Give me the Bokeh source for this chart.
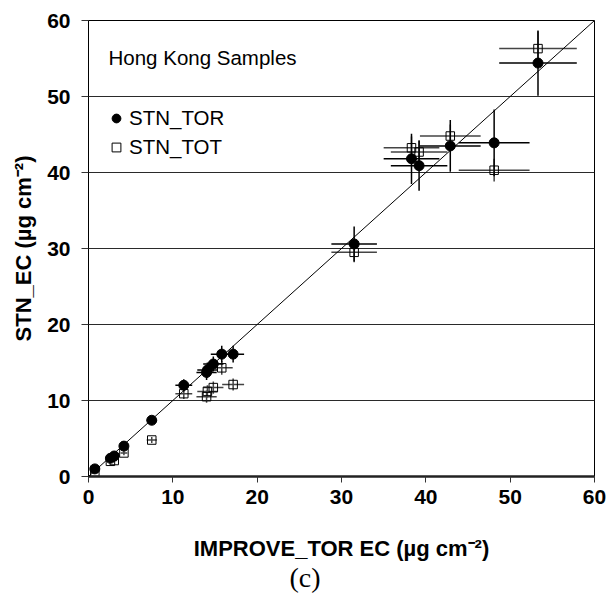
from bokeh.plotting import figure
from bokeh.models import (ColumnDataSource, Legend, LegendItem, Label, Slope,
                          SingleIntervalTicker, Range1d, Title)
from bokeh.embed import file_html
from bokeh.resources import INLINE

# ---- data ----
improve_tor = [53.3, 48.1, 42.9, 39.2, 38.3, 31.5, 17.15, 15.8, 14.8, 14.1, 14.0, 11.3, 7.5, 4.2, 3.05, 2.6, 0.75]
improve_err = [4.6, 4.2, 3.6, 3.35, 3.3, 2.7, 1.3, 1.3, 1.2, 1.2, 1.2, 1.0, 0.6, 0.4, 0.3, 0.3, 0.2]
stn_tor = [54.4, 43.9, 43.5, 40.9, 41.8, 30.6, 16.1, 16.1, 14.8, 14.0, 13.7, 12.0, 7.4, 4.0, 2.7, 2.4, 1.0]
stn_tor_err = [4.3, 4.4, 3.4, 3.3, 3.3, 2.3, 1.1, 1.1, 1.0, 1.0, 1.0, 0.8, 0.5, 0.4, 0.3, 0.3, 0.2]
stn_tot = [56.3, 40.3, 44.8, 42.7, 43.25, 29.5, 12.1, 14.3, 11.7, 11.2, 10.5, 10.9, 4.8, 3.1, 2.1, 2.0, 0.6]
stn_tot_err = [2.3, 1.5, 1.5, 1.5, 1.5, 1.3, 0.8, 0.9, 0.8, 0.8, 0.8, 0.7, 0.4, 0.3, 0.2, 0.2, 0.1]
axis_min, axis_max, tick_step = 0, 60, 10

FONT = "Liberation Sans"

def make_source(y, yerr):
    return ColumnDataSource(dict(
        x=improve_tor, y=y,
        x0=[a - e for a, e in zip(improve_tor, improve_err)],
        x1=[a + e for a, e in zip(improve_tor, improve_err)],
        y0=[a - e for a, e in zip(y, yerr)],
        y1=[a + e for a, e in zip(y, yerr)],
    ))

src_tor = make_source(stn_tor, stn_tor_err)
src_tot = make_source(stn_tot, stn_tot_err)

p = figure(width=608, height=600, output_backend="svg", toolbar_location=None,
           x_range=Range1d(axis_min, axis_max), y_range=Range1d(axis_min, axis_max),
           min_border_left=88, min_border_right=14, min_border_top=20, min_border_bottom=124)
p.background_fill_color = "white"
p.border_fill_color = "white"
p.outline_line_color = "black"
p.outline_line_width = 1

# grid
p.xgrid.grid_line_color = None
p.ygrid.grid_line_color = "#2a2a2a"
p.ygrid.grid_line_width = 1

for ax in (p.xaxis[0], p.yaxis[0]):
    ax.ticker = SingleIntervalTicker(interval=tick_step, num_minor_ticks=0)
    ax.major_tick_in = 0
    ax.minor_tick_line_color = None
    ax.major_label_text_font = FONT
    ax.major_label_text_font_style = "bold"
    ax.major_label_text_font_size = "21px"
    ax.major_label_text_color = "black"
    ax.axis_label_text_font = FONT
    ax.axis_label_text_font_style = "bold"
    ax.axis_label_text_font_size = "22px"
    ax.axis_label_text_color = "black"
    ax.major_tick_line_color = "#333333"

p.xaxis.axis_label = "IMPROVE_TOR EC (µg cm⁻²)"
p.yaxis.axis_label = "STN_EC (µg cm⁻²)"
p.xaxis.axis_line_width = 2.5
p.xaxis.axis_line_color = "#222222"
p.yaxis.axis_line_color = "black"
p.yaxis.axis_line_width = 1
p.xaxis.major_tick_out = 6
p.yaxis.major_tick_out = 7
p.xaxis.major_label_standoff = 7
p.yaxis.major_label_standoff = 11
p.xaxis.axis_label_standoff = 29
p.yaxis.axis_label_standoff = 8

# 1:1 line
p.add_layout(Slope(gradient=1, y_intercept=0, line_color="black", line_width=1))

# error bars
for src, col in ((src_tot, "#444444"), (src_tor, "black")):
    p.segment(x0="x0", y0="y", x1="x1", y1="y", source=src, line_color=col, line_width=1.5)
    p.segment(x0="x", y0="y0", x1="x", y1="y1", source=src, line_color=col, line_width=1.5)

r_tor = p.scatter("x", "y", source=src_tor, marker="circle", size=10,
                  fill_color="black", line_color="black")
r_tot = p.scatter("x", "y", source=src_tot, marker="square", size=8.5,
                  fill_color=None, line_color="black", line_width=1)

legend = Legend(items=[LegendItem(label="STN_TOR", renderers=[r_tor]),
                       LegendItem(label="STN_TOT", renderers=[r_tot])],
                location=(17, 317), glyph_width=22, glyph_height=22,
                label_height=22, spacing=5, padding=0, margin=0,
                label_standoff=2, border_line_color=None,
                background_fill_alpha=0,
                label_text_font=FONT, label_text_font_size="20.5px",
                label_text_color="black")
p.add_layout(legend, "center")

p.add_layout(Label(x=20, y=419, x_units="screen", y_units="screen",
                   text="Hong Kong Samples", text_font=FONT, text_font_size="20.5px",
                   text_baseline="middle", text_color="black"))

cap = Title(text="(c)", align="left", offset=201, standoff=-7,
            text_font="Liberation Serif", text_font_size="28px",
            text_font_style="normal", text_color="black")
p.add_layout(cap, "below")

open("out.html", "w").write(file_html(p, INLINE))
